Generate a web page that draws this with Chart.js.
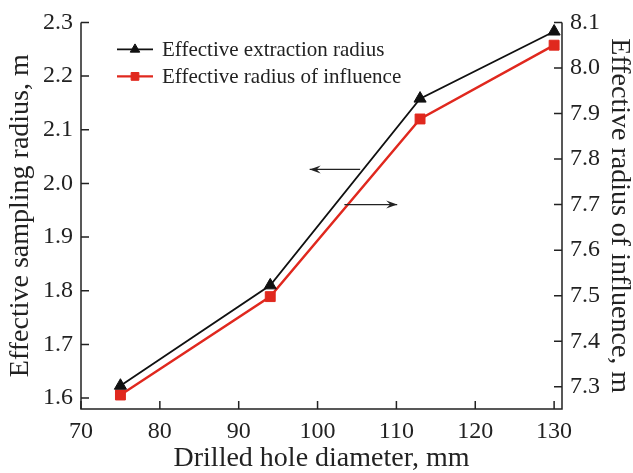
<!DOCTYPE html>
<html>
<head>
<meta charset="utf-8">
<script src="https://cdn.jsdelivr.net/npm/chart.js@4"></script>
<style>
  html, body { margin: 0; padding: 0; background: #fff; }
  #wrap { width: 633px; height: 473px; }
</style>
</head>
<body>
<div id="wrap"><canvas id="chart" width="633" height="473"></canvas></div>
<script>
// drilled hole diameter, mm
const diameters = [75, 94, 113, 130];
// effective extraction radius, m (left axis)
const extractionRadius = [1.623, 1.81, 2.158, 2.283];
// effective radius of influence, m (right axis)
const influenceRadius = [7.282, 7.498, 7.888, 8.05];

const xTicks = [70, 80, 90, 100, 110, 120, 130];
const leftTicks = [1.6, 1.7, 1.8, 1.9, 2.0, 2.1, 2.2, 2.3];
const rightTicks = [7.3, 7.4, 7.5, 7.6, 7.7, 7.8, 7.9, 8.0, 8.1];

const FONT = "'Liberation Serif', 'Times New Roman', serif";
const INK = '#222';
const tickFont = { family: FONT, size: 24 };
const titleFont = { family: FONT, size: 28, lineHeight: 1 };

// inward tick marks, axis lines, legend and the two direction arrows
const decor = {
  id: 'decor',
  afterDatasetsDraw(chart) {
    const { ctx, chartArea: a, scales } = chart;
    ctx.save();
    ctx.strokeStyle = INK;
    ctx.lineWidth = 1.5;
    ctx.beginPath();
    ctx.moveTo(a.left, a.top); ctx.lineTo(a.left, a.bottom); ctx.lineTo(a.right, a.bottom); ctx.lineTo(a.right, a.top);
    ctx.stroke();

    const len = 8;
    ctx.beginPath();
    xTicks.forEach(v => { const px = scales.x.getPixelForValue(v); ctx.moveTo(px, a.bottom); ctx.lineTo(px, a.bottom - len); });
    leftTicks.forEach(v => { const py = scales.y.getPixelForValue(v); ctx.moveTo(a.left, py); ctx.lineTo(a.left + len, py); });
    rightTicks.forEach(v => { const py = scales.y2.getPixelForValue(v); ctx.moveTo(a.right, py); ctx.lineTo(a.right - len, py); });
    ctx.stroke();

    // arrows telling which axis each curve belongs to
    const arrow = (x0, x1, py, dir) => {
      const p0 = scales.x.getPixelForValue(x0), p1 = scales.x.getPixelForValue(x1);
      ctx.lineWidth = 1.3;
      ctx.beginPath(); ctx.moveTo(p0, py); ctx.lineTo(p1, py); ctx.stroke();
      const tip = dir < 0 ? p0 : p1;
      ctx.beginPath();
      ctx.moveTo(tip, py);
      ctx.lineTo(tip - dir * 11, py - 4);
      ctx.lineTo(tip - dir * 7, py);
      ctx.lineTo(tip - dir * 11, py + 4);
      ctx.closePath();
      ctx.fillStyle = INK; ctx.fill();
    };
    arrow(99.0, 105.4, scales.y.getPixelForValue(2.026), -1);
    arrow(103.4, 110.1, scales.y2.getPixelForValue(7.7), 1);

    // legend
    ctx.font = '21px ' + FONT;
    ctx.textBaseline = 'middle';
    chart.data.datasets.forEach((ds, i) => {
      const y = a.top + 27 + i * 27;
      const x0 = a.left + 36, x1 = a.left + 72;
      ctx.strokeStyle = ds.borderColor;
      ctx.lineWidth = ds.borderWidth;
      ctx.beginPath(); ctx.moveTo(x0, y); ctx.lineTo(x1, y); ctx.stroke();
      ctx.fillStyle = ds.backgroundColor;
      ctx.lineWidth = 1;
      Chart.helpers.drawPoint(ctx, { pointStyle: ds.pointStyle, radius: ds.pointRadius - 1.5, borderWidth: 1 }, (x0 + x1) / 2, y);
      ctx.fillStyle = INK;
      ctx.fillText(ds.label, x1 + 9, y + 1);
    });
    ctx.restore();
  }
};

new Chart(document.getElementById('chart'), {
  type: 'line',
  data: {
    datasets: [
      {
        label: 'Effective extraction radius',
        data: diameters.map((d, i) => ({ x: d, y: extractionRadius[i] })),
        yAxisID: 'y',
        borderColor: '#111',
        backgroundColor: '#111',
        borderWidth: 1.8,
        pointStyle: 'triangle',
        pointRadius: 7,
        pointBorderWidth: 1
      },
      {
        label: 'Effective radius of influence',
        data: diameters.map((d, i) => ({ x: d, y: influenceRadius[i] })),
        yAxisID: 'y2',
        borderColor: '#e0281e',
        backgroundColor: '#e0281e',
        borderWidth: 2.4,
        pointStyle: 'rect',
        pointRadius: 7,
        pointBorderWidth: 1
      }
    ]
  },
  options: {
    responsive: false,
    animation: false,
    layout: { padding: { top: 20, left: 0, right: 0, bottom: 0 } },
    plugins: { legend: { display: false }, tooltip: { enabled: false } },
    scales: {
      x: {
        type: 'linear', min: 70, max: 131,
        afterBuildTicks: s => { s.ticks = xTicks.map(v => ({ value: v })); },
        afterFit: s => { s.height = 64; },
        grid: { display: false, drawTicks: false },
        border: { display: false },
        ticks: { color: INK, font: tickFont, padding: 8 },
        title: { display: true, text: 'Drilled hole diameter, mm', color: INK, font: titleFont, padding: { top: 0, bottom: 0 } }
      },
      y: {
        type: 'linear', position: 'left', min: 1.5796, max: 2.3,
        afterBuildTicks: s => { s.ticks = leftTicks.map(v => ({ value: v })); },
        afterFit: s => { s.width = 81; },
        grid: { display: false, drawTicks: false },
        border: { display: false },
        ticks: { color: INK, font: tickFont, padding: 8, callback: v => v.toFixed(1) },
        title: { display: true, text: 'Effective sampling radius, m', color: INK, font: titleFont, padding: { top: 7, bottom: 0 } }
      },
      y2: {
        type: 'linear', position: 'right', min: 7.2513, max: 8.1,
        afterBuildTicks: s => { s.ticks = rightTicks.map(v => ({ value: v })); },
        afterFit: s => { s.width = 71; },
        grid: { display: false, drawTicks: false },
        border: { display: false },
        ticks: { color: INK, font: tickFont, padding: 8, callback: v => v.toFixed(1) },
        title: { display: true, text: 'Effective radius of influence, m', color: INK, font: titleFont, padding: { top: 0, bottom: 0 } }
      }
    }
  },
  plugins: [decor]
});
</script>
</body>
</html>
